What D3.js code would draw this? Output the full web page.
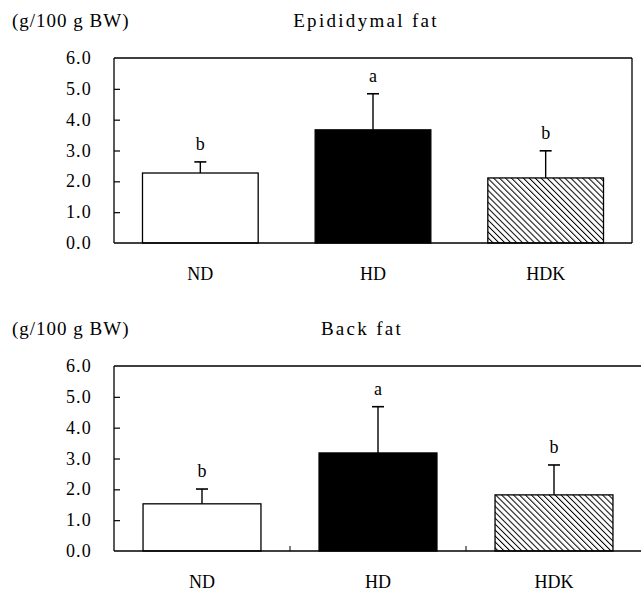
<!DOCTYPE html>
<html><head><meta charset="utf-8">
<script src="https://cdn.jsdelivr.net/npm/d3@7"></script>
<style>body{margin:0;background:#fff}svg{display:block}</style>
</head><body>
<svg id="c" width="641" height="594"></svg>
<script>
const categories = ["ND", "HD", "HDK"];
const yTicks = [0, 1, 2, 3, 4, 5, 6];
const unitLabel = "(g/100 g BW)";
const panelTitles = ["Epididymal fat", "Back fat"];
const epiMeans = [2.27, 3.67, 2.11];
const epiSD = [0.36, 1.17, 0.88];
const epiLetters = ["b", "a", "b"];
const backMeans = [1.53, 3.18, 1.82];
const backSD = [0.48, 1.50, 0.97];
const backLetters = ["b", "a", "b"];

const svg = d3.select("#c");
const font = "'Liberation Serif','Times New Roman',serif";

const defs = svg.append("defs");
const pat = defs.append("pattern").attr("id", "hatch").attr("patternUnits", "userSpaceOnUse")
  .attr("width", 4.2).attr("height", 4.2).attr("patternTransform", "rotate(-45)");
pat.append("rect").attr("width", 4.2).attr("height", 4.2).attr("fill", "#fff");
pat.append("line").attr("x1", 0).attr("y1", 0).attr("x2", 0).attr("y2", 4.2)
  .attr("stroke", "#000").attr("stroke-width", 2);

const fills = ["#fff", "#000", "url(#hatch)"];

function panel(cfg) {
  const {top, bottom, left, right, title, means, sds, letters, closed, catTicks, oy} = cfg;
  const g = svg.append("g");
  const y = d3.scaleLinear().domain([0, 6]).range([bottom, top]);
  const x = d3.scaleBand().domain(categories).range([left, right]).paddingInner(0.33).paddingOuter(0.165);

  g.append("text").attr("x", 12).attr("y", oy + 27).attr("font-family", font).attr("font-size", 19)
    .attr("letter-spacing", 1).text(unitLabel);
  g.append("text").attr("x", cfg.titleX).attr("y", oy + 27).attr("font-family", font).attr("font-size", 19)
    .attr("letter-spacing", 2.3).attr("text-anchor", "middle").text(title);

  // frame
  g.append("line").attr("x1", left).attr("x2", closed ? right : 641).attr("y1", top).attr("y2", top)
    .attr("stroke", "#000").attr("stroke-width", 1.3);
  if (closed) g.append("line").attr("x1", right).attr("x2", right).attr("y1", top).attr("y2", bottom)
    .attr("stroke", "#000").attr("stroke-width", 1.3);

  // bars
  g.selectAll("rect.bar").data(means).join("rect").attr("class", "bar")
    .attr("x", (d, i) => x(categories[i])).attr("width", x.bandwidth())
    .attr("y", d => y(d)).attr("height", d => y(0) - y(d))
    .attr("fill", (d, i) => fills[i]).attr("stroke", "#000").attr("stroke-width", 1.3);

  // error bars
  means.forEach((m, i) => {
    const cx = x(categories[i]) + x.bandwidth() / 2;
    g.append("line").attr("x1", cx).attr("x2", cx).attr("y1", y(m)).attr("y2", y(m + sds[i]))
      .attr("stroke", "#000").attr("stroke-width", 1.4);
    g.append("line").attr("x1", cx - 6).attr("x2", cx + 6).attr("y1", y(m + sds[i])).attr("y2", y(m + sds[i]))
      .attr("stroke", "#000").attr("stroke-width", 1.6);
    g.append("text").attr("x", cx).attr("y", y(m + sds[i]) - 12).attr("text-anchor", "middle")
      .attr("font-family", font).attr("font-size", 18).text(letters[i]);
  });

  // y axis
  const ya = g.append("g").attr("transform", `translate(${left},0)`)
    .call(d3.axisRight(y).tickValues(yTicks).tickSize(6).tickFormat(""));
  ya.select(".domain").remove();
  ya.selectAll(".tick line").attr("stroke-width", 1.2);
  ya.selectAll(".tick").filter(d => d === 0 || d === 6).remove();
  g.append("line").attr("x1", left).attr("x2", left).attr("y1", top).attr("y2", bottom)
    .attr("stroke", "#000").attr("stroke-width", 1.3);
  g.selectAll("text.yt").data(yTicks).join("text").attr("class", "yt")
    .attr("x", 92).attr("y", d => y(d) + 6).attr("text-anchor", "end")
    .attr("font-family", font).attr("font-size", 18).attr("letter-spacing", 1.2)
    .text(d => d3.format(".1f")(d));

  // x axis
  g.append("line").attr("x1", left).attr("x2", closed ? right : 641).attr("y1", bottom).attr("y2", bottom)
    .attr("stroke", "#000").attr("stroke-width", 1.4);
  if (catTicks) {
    categories.slice(1).forEach(c => {
      const tx = x(c) - x.step() * x.paddingInner() / 2;
      g.append("line").attr("x1", tx).attr("x2", tx).attr("y1", bottom).attr("y2", bottom - 5)
        .attr("stroke", "#000").attr("stroke-width", 1);
    });
  }
  g.selectAll("text.xt").data(categories).join("text").attr("class", "xt")
    .attr("x", d => x(d) + x.bandwidth() / 2).attr("y", bottom + 37).attr("text-anchor", "middle")
    .attr("font-family", font).attr("font-size", 18).text(d => d);
}

panel({oy: 0, top: 58, bottom: 243, left: 114, right: 632, title: panelTitles[0], titleX: 366,
  means: epiMeans, sds: epiSD, letters: epiLetters, closed: true, catTicks: false});
panel({oy: 308, top: 366, bottom: 551, left: 114, right: 642, title: panelTitles[1], titleX: 362,
  means: backMeans, sds: backSD, letters: backLetters, closed: false, catTicks: true});
</script>
</body></html>
